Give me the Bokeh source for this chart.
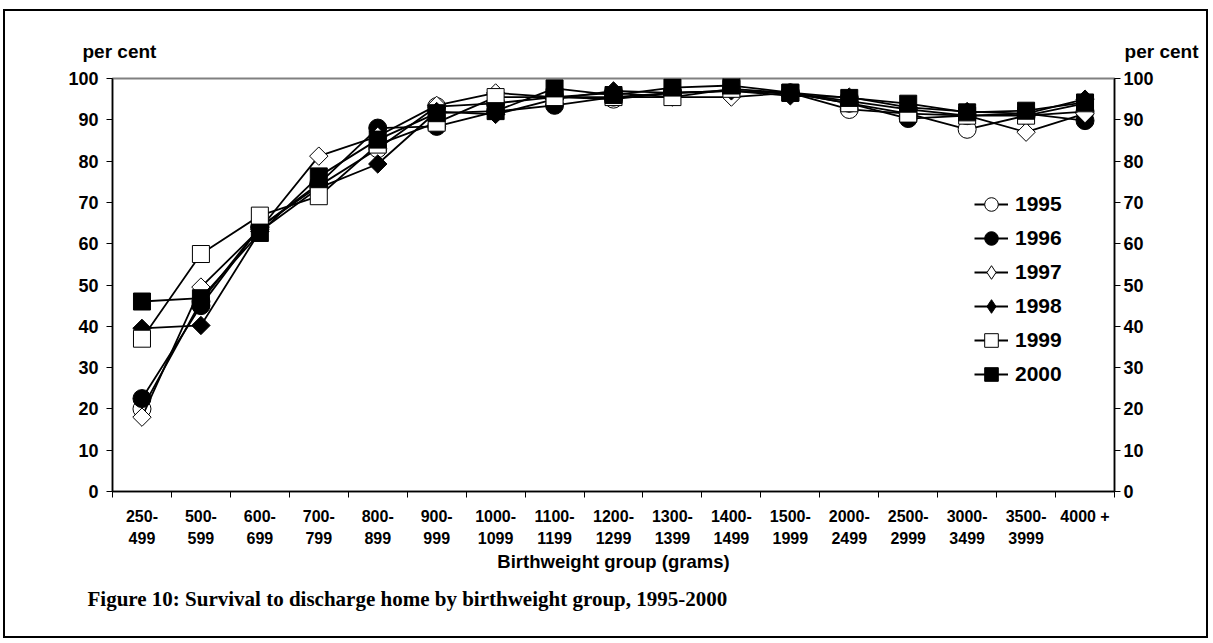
import math
from bokeh.plotting import figure
from bokeh.models import (Range1d, FixedTicker, LinearAxis, Legend, LegendItem, Title)
from bokeh.embed import file_html
from bokeh.resources import INLINE

categories = ["250-\n499", "500-\n599", "600-\n699", "700-\n799", "800-\n899",
              "900-\n999", "1000-\n1099", "1100-\n1199", "1200-\n1299",
              "1300-\n1399", "1400-\n1499", "1500-\n1999", "2000-\n2499",
              "2500-\n2999", "3000-\n3499", "3500-\n3999", "4000 +"]

years = ["1995", "1996", "1997", "1998", "1999", "2000"]

s1995 = [20.0, 46.0, 64.0, 74.0, 83.0, 93.2, 94.0, 95.5, 95.0, 96.5, 97.0, 96.5, 92.5, 91.5, 87.7, 91.0, 92.0]
s1996 = [22.5, 45.0, 64.0, 74.5, 88.0, 88.4, 92.0, 93.5, 95.5, 96.5, 97.0, 96.5, 94.0, 90.3, 91.0, 91.5, 89.8]
s1997 = [18.0, 49.5, 63.5, 81.2, 86.0, 93.5, 96.5, 95.5, 96.5, 95.5, 95.5, 96.5, 94.5, 92.5, 91.0, 87.0, 91.5]
s1998 = [39.5, 40.2, 63.0, 73.5, 79.3, 92.0, 91.3, 95.0, 97.0, 96.5, 97.0, 95.8, 95.5, 93.0, 92.0, 91.5, 95.0]
s1999 = [37.0, 57.5, 66.8, 71.5, 84.0, 89.3, 95.5, 95.5, 95.5, 95.5, 97.5, 96.5, 94.0, 91.5, 91.0, 91.0, 94.0]
s2000 = [46.0, 46.8, 62.6, 76.3, 85.2, 91.6, 92.1, 97.6, 96.0, 97.8, 98.3, 96.6, 95.3, 93.9, 91.8, 92.2, 94.2]

y_ticks = list(range(0, 101, 10))

y_title = "per cent"
x_title = "Birthweight group (grams)"
caption = "Figure 10: Survival to discharge home by birthweight group, 1995-2000"

FONT = "Liberation Sans"

n = len(categories)
centers = [i + 0.5 for i in range(n)]
bounds = list(range(n + 1))

p = figure(width=1205, height=629, x_range=Range1d(0, n), y_range=Range1d(0, 100),
           output_backend="svg", toolbar_location=None, title=None,
           min_border_left=107, min_border_right=96, min_border_top=67,
           min_border_bottom=149)
p.styles = {"border": "2px solid black", "margin-left": "3px", "margin-top": "9px"}
p.background_fill_color = "white"
p.border_fill_color = "white"
p.outline_line_color = "#808080"
p.outline_line_width = 2
p.xgrid.visible = False
p.ygrid.visible = False

# x axis
xa = p.xaxis[0]
xa.ticker = FixedTicker(ticks=centers, minor_ticks=bounds)
xa.major_label_overrides = {c: lab for c, lab in zip(centers, categories)}
xa.major_tick_line_color = None
xa.minor_tick_in = 0
xa.minor_tick_out = 6
xa.minor_tick_line_color = "black"
xa.minor_tick_line_width = 1
xa.axis_line_color = "black"
xa.axis_line_width = 1.5
xa.major_label_text_font = FONT
xa.major_label_text_font_style = "bold"
xa.major_label_text_font_size = "16px"
xa.major_label_text_color = "black"
xa.major_label_text_line_height = 1.35
xa.major_label_standoff = 10
xa.major_label_orientation = "horizontal"
xa.axis_label = x_title
xa.axis_label_text_font = FONT
xa.axis_label_text_font_style = "bold"
xa.axis_label_text_font_size = "18.5px"
xa.axis_label_text_color = "black"
xa.axis_label_standoff = 1

# y axes
def style_y(ax, standoff):
    ax.ticker = FixedTicker(ticks=y_ticks)
    ax.minor_tick_line_color = None
    ax.major_tick_in = 0
    ax.major_tick_out = 6
    ax.major_tick_line_color = "black"
    ax.axis_line_color = "black"
    ax.axis_line_width = 1.5
    ax.major_label_text_font = FONT
    ax.major_label_text_font_style = "bold"
    ax.major_label_text_font_size = "18px"
    ax.major_label_text_color = "black"
    ax.major_label_standoff = standoff

style_y(p.yaxis[0], 8)
ry = LinearAxis()
style_y(ry, 3)
p.add_layout(ry, "right")

# (name, values, marker, fill, size, angle, legend marker)
series = [
    (years[0], s1995, "circle", "white", 18, 0.0, None),
    (years[1], s1996, "circle", "black", 18, 0.0, None),
    (years[2], s1997, "square", "white", 13, math.pi / 4, "diamond"),
    (years[3], s1998, "square", "black", 13, math.pi / 4, "diamond"),
    (years[4], s1999, "square", "white", 17, 0.0, None),
    (years[5], s2000, "square", "black", 17, 0.0, None),
]

items = []
for name, vals, marker, fill, size, ang, leg_marker in series:
    lr = p.line(centers, vals, line_color="black", line_width=1.8)
    rends = [lr]
    if leg_marker is not None:
        # diamond kept under the rotated square; gives the legend its diamond
        hr = p.scatter(centers, vals, marker=leg_marker, size=size,
                       fill_color=fill, line_color="black", line_width=1)
        rends.append(hr)
    sr = p.scatter(centers, vals, marker=marker, size=size, angle=ang,
                   fill_color=fill, line_color="black", line_width=1)
    if leg_marker is None:
        rends.append(sr)
    items.append(LegendItem(label=name, renderers=rends))

legend = Legend(items=items, location=(862, 100))
legend.background_fill_alpha = 0
legend.border_line_color = None
legend.padding = 0
legend.margin = 0
legend.spacing = 0
legend.glyph_width = 34
legend.glyph_height = 34
legend.label_height = 34
legend.label_standoff = 7
legend.label_text_font = FONT
legend.label_text_font_style = "bold"
legend.label_text_font_size = "21px"
legend.label_text_color = "black"
p.add_layout(legend, "center")

# "per cent" above both value axes (two titles sharing one row)
t_left = Title(text=y_title, align="left", offset=-30, vertical_align="bottom",
               standoff=34, text_font=FONT, text_font_style="bold",
               text_font_size="19px", text_color="black")
t_right = Title(text=y_title, align="right", offset=-84, vertical_align="bottom",
                standoff=-80, text_font=FONT, text_font_style="bold",
                text_font_size="19px", text_color="black")
p.add_layout(t_left, "above")
p.add_layout(t_right, "above")

# caption
p.add_layout(Title(text=caption, align="left", offset=-25, standoff=18,
                   text_font="Liberation Serif", text_font_style="bold",
                   text_font_size="21px", text_color="black"), "below")

open("out.html", "w").write(file_html(p, INLINE))
